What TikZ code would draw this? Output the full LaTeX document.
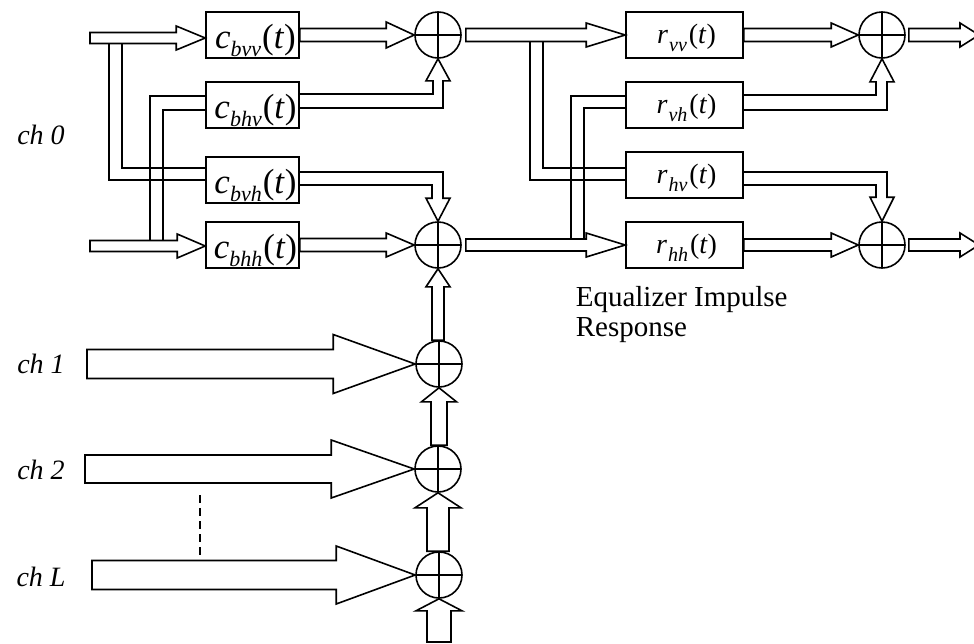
\documentclass[tikz,border=0pt]{standalone}
\usepackage{fontspec}
\setmainfont{Liberation Serif}
\usetikzlibrary{calc,backgrounds}

\newcommand\csig[1]{{\fontsize{35}{35}\selectfont\textit{c}\raisebox{-8pt}{\fontsize{22}{22}\selectfont\textit{#1}}\kern1pt(\textit{t})}}
\newcommand\rsig[1]{{\fontsize{28}{28}\selectfont\textit{r}\kern1pt\raisebox{-8pt}{\fontsize{20}{20}\selectfont\textit{#1}}\kern2pt(\textit{t})}}

% horizontal fat arrow: from, tip, shaft half, head length, head half
\newcommand\hfat[5]{\draw[fat] let \p1=(#1),\p2=(#2) in
  (\x1,\y2+#3pt) -- (\x2-#4pt,\y2+#3pt) -- (\x2-#4pt,\y2+#5pt) -- (\x2,\y2)
  -- (\x2-#4pt,\y2-#5pt) -- (\x2-#4pt,\y2-#3pt) -- (\x1,\y2-#3pt) -- cycle;}
% vertical (upward) fat arrow: from (below), tip (above), shaft half, head length, head half
\newcommand\vfat[5]{\draw[fat] let \p1=(#1),\p2=(#2) in
  (\x2+#3pt,\y1) -- (\x2+#3pt,\y2-#4pt) -- (\x2+#5pt,\y2-#4pt) -- (\x2,\y2)
  -- (\x2-#5pt,\y2-#4pt) -- (\x2-#3pt,\y2-#4pt) -- (\x2-#3pt,\y1) -- cycle;}

\begin{document}
\begin{tikzpicture}[x=1pt,y=-1pt,line width=1.6pt,
  cblk/.style={draw,minimum width=93pt,minimum height=46pt,inner sep=0pt},
  rblk/.style={draw,minimum width=117pt,minimum height=46pt,inner sep=0pt},
  sumc/.style={draw,circle,minimum size=46pt,inner sep=0pt,
    path picture={\draw[line width=1.6pt] (path picture bounding box.north) -- (path picture bounding box.south)
      (path picture bounding box.west) -- (path picture bounding box.east);}},
  fat/.style={draw,fill=white,line width=1.6pt},
  pipe/.style={draw,line width=1.6pt},
  lbl/.style={anchor=base,inner sep=0pt},
  chl/.style={font=\fontsize{28}{28}\selectfont\itshape,inner sep=0pt}]

\useasboundingbox (0,0) rectangle (974,643);

% blocks
\node[cblk] (cbvv) at (252.5,35) {};
\node[cblk] (cbhv) at (252.5,105) {};
\node[cblk] (cbvh) at (252.5,180) {};
\node[cblk] (cbhh) at (252.5,245) {};
\node[rblk] (rvv) at (684.5,35) {};
\node[rblk] (rvh) at (684.5,105) {};
\node[rblk] (rhv) at (684.5,175) {};
\node[rblk] (rhh) at (684.5,245) {};

\node[lbl] (tcbvv) at ($(cbvv.center)+(3,13)$) {\csig{bvv}};
\node[lbl] (tcbhv) at ($(cbhv.center)+(3,13)$) {\csig{bhv}};
\node[lbl] (tcbvh) at ($(cbvh.center)+(3,13)$) {\csig{bvh}};
\node[lbl] (tcbhh) at ($(cbhh.center)+(3,13)$) {\csig{bhh}};
\node[lbl] (trvv) at ($(rvv.center)+(2,8)$) {\rsig{vv}};
\node[lbl] (trvh) at ($(rvh.center)+(2,8)$) {\rsig{vh}};
\node[lbl] (trhv) at ($(rhv.center)+(2,8)$) {\rsig{hv}};
\node[lbl] (trhh) at ($(rhh.center)+(2,8)$) {\rsig{hh}};

% summers
\node[sumc] (s1) at (438,35) {};
\node[sumc] (s2) at (438,245) {};
\node[sumc] (s3) at (439,364) {};
\node[sumc] (s4) at (438,469) {};
\node[sumc] (s5) at (439,575) {};
\node[sumc] (s6) at (882,35) {};
\node[sumc] (s7) at (882,245) {};

% free ends
\coordinate (in0) at (90,38);
\coordinate (in1) at (90,246);
\coordinate (out0) at (979,35);
\coordinate (out1) at (979,245);
\coordinate (ch1) at (87,364);
\coordinate (ch2) at (85,469);
\coordinate (chL) at (92,575);
\coordinate (bot) at (439,642);

% labels
\node[chl] (l0) at (41,135) {ch 0};
\node[chl] (l1) at (41,364) {ch 1};
\node[chl] (l2) at (41,470) {ch 2};
\node[chl] (lL) at (41,577) {ch L};
\node[anchor=north west,inner sep=0pt,align=left,font=\fontsize{29}{30}\selectfont] (eq) at (575,286) {Equalizer Impulse\\Response};

\begin{scope}[on background layer,line width=1.6pt]
% branch pipes
\draw[pipe] ($(in0)+(19,5.5)$) |- (cbvh.west);
\draw[pipe] ($(in0)+(32,5.5)$) |- ([yshift=12pt]cbvh.west);
\draw[pipe] ($(in1)+(60,-5.5)$) |- ([yshift=9pt]cbhv.west);
\draw[pipe] ($(in1)+(73,-5.5)$) |- ([yshift=-5pt]cbhv.west);
\draw[pipe] ($(s1)+(92,6.5)$) |- ([yshift=-5pt]rhv.west);
\draw[pipe] ($(s1)+(105,6.5)$) |- ([yshift=7pt]rhv.west);
\draw[pipe] ($(s2)+(133,-6)$) |- ([yshift=9pt]rvh.west);
\draw[pipe] ($(s2)+(146,-6)$) |- ([yshift=-3pt]rvh.west);

% main fat arrows
\hfat{in0}{[yshift=-3pt]cbvv.west}{5.5}{29}{12}
\hfat{in1}{[yshift=-1pt]cbhh.west}{5.5}{28}{12}
\hfat{cbvv.east}{s1.west}{6.5}{28}{13}
\hfat{cbhh.east}{s2.west}{6.5}{28}{12}
\hfat{[xshift=4pt]s1.east}{rvv.west}{6.5}{39}{12}
\hfat{[xshift=4pt]s2.east}{rhh.west}{6}{39}{12}
\hfat{rvv.east}{s6.west}{6.5}{27}{12}
\hfat{rhh.east}{s7.west}{6}{27}{12}
\hfat{[xshift=3pt]s6.east}{out0}{6.5}{19}{12}
\hfat{[xshift=3pt]s7.east}{out1}{6}{19}{12}

% cross-feed arrows
\draw[fat] let \p1=(cbhv.east),\p2=(s1.south) in
  (\x1,\y1+11pt) -- (\x2-5pt,\y1+11pt) -- (\x2-5pt,\y2-22pt) -- (\x2-12pt,\y2-22pt) -- (\x2,\y2)
  -- (\x2+12pt,\y2-22pt) -- (\x2+5pt,\y2-22pt) -- (\x2+5pt,\y1-3pt) -- (\x1,\y1-3pt);
\draw[fat] let \p1=(cbvh.east),\p2=(s2.north) in
  (\x1,\y1+8pt) -- (\x2+5pt,\y1+8pt) -- (\x2+5pt,\y2+23pt) -- (\x2+12pt,\y2+23pt) -- (\x2,\y2)
  -- (\x2-12pt,\y2+23pt) -- (\x2-6pt,\y2+23pt) -- (\x2-6pt,\y1-5pt) -- (\x1,\y1-5pt);
\draw[fat] let \p1=(rvh.east),\p2=(s6.south) in
  (\x1,\y1+10pt) -- (\x2-6pt,\y1+10pt) -- (\x2-6pt,\y2-23pt) -- (\x2-12pt,\y2-23pt) -- (\x2,\y2)
  -- (\x2+12pt,\y2-23pt) -- (\x2+5pt,\y2-23pt) -- (\x2+5pt,\y1-5pt) -- (\x1,\y1-5pt);
\draw[fat] let \p1=(rhv.east),\p2=(s7.north) in
  (\x1,\y1+3pt) -- (\x2+5pt,\y1+3pt) -- (\x2+5pt,\y2+24pt) -- (\x2+12pt,\y2+24pt) -- (\x2,\y2)
  -- (\x2-12pt,\y2+24pt) -- (\x2-6pt,\y2+24pt) -- (\x2-6pt,\y1-10pt) -- (\x1,\y1-10pt);

% channel arrows
\hfat{ch1}{s3.west}{14.5}{82}{29.5}
\hfat{ch2}{s4.west}{14}{83}{29}
\hfat{chL}{s5.west}{14.5}{79}{29}

% vertical accumulation arrows
\vfat{s3.north}{s2.south}{6}{18}{12}
\vfat{s4.north}{s3.south}{8}{14}{17.5}
\vfat{s5.north}{s4.south}{11}{15}{23}
\vfat{bot}{s5.south}{12}{12}{23}

% dashed continuation
\draw[line width=1.6pt,dash pattern=on 8pt off 5pt] ($(chL)+(108,-80)$) -- ($(chL)+(108,-14.5)$);
\end{scope}
\end{tikzpicture}
\end{document}
